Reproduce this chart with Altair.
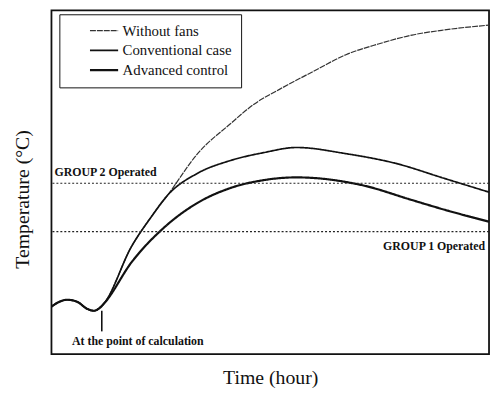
import altair as alt
import pandas as pd

# ---- data (arbitrary units: time 0-100, temperature 0-100) ----
series_names = ["Without fans", "Conventional case", "Advanced control"]

base_time = [0.0, 1.8, 3.6, 5.9, 8.1, 9.7, 10.8, 12.0]
base_temp = [13.8, 15.2, 15.8, 15.2, 13.2, 12.6, 13.2, 14.7]

nofan_time = [18.3, 22.8, 26.6, 33.4, 40.9, 46.3, 52.1, 59.8, 67.3, 74.7, 82.4, 89.8, 100]
nofan_temp = [31.3, 39.9, 46.3, 58.3, 67.0, 72.7, 77.0, 82.2, 87.1, 90.2, 92.8, 94.3, 95.7]

conv_time = [18.3, 22.8, 26.6, 33.4, 40.9, 48.5, 56.0, 67.3, 78.6, 89.8, 100]
conv_temp = [31.3, 39.9, 46.3, 52.6, 56.3, 58.6, 60.1, 58.3, 55.5, 51.1, 47.1]

adv_time = [18.3, 26.0, 33.4, 40.9, 48.5, 56.0, 71.1, 82.4, 89.8, 100]
adv_temp = [26.7, 37.1, 44.0, 48.3, 50.6, 51.4, 49.1, 44.8, 42.0, 38.5]

group_levels = [49.7, 35.6]

left_labels = ["GROUP 2 Operated", "At the point of calculation"]
left_label_time = [0.7, 4.7]
left_label_temp = [52.9, 3.7]

right_labels = ["GROUP 1 Operated"]
right_label_time = [99.1]
right_label_temp = [31.3]

calc_time = [11.5]
calc_temp_low = [6.6]
calc_temp_high = [12.6]

# ---- tables ----
rows = []
for name, ts, vs in zip(series_names,
                        [nofan_time, conv_time, adv_time],
                        [nofan_temp, conv_temp, adv_temp]):
    for t, v in zip(base_time + ts, base_temp + vs):
        rows.append({"series": name, "time": t, "temp": v})
df = pd.DataFrame(rows)

levels_df = pd.DataFrame({"temp": group_levels})
left_df = pd.DataFrame({"label": left_labels, "time": left_label_time, "temp": left_label_temp})
right_df = pd.DataFrame({"label": right_labels, "time": right_label_time, "temp": right_label_temp})
calc_df = pd.DataFrame({"time": calc_time, "temp": calc_temp_low, "temp2": calc_temp_high})

SERIF = "Liberation Serif"
xscale = alt.Scale(domain=[0, 100], nice=False, zero=False)
yscale = alt.Scale(domain=[0, 100], nice=False, zero=False)

legend = alt.Legend(
    title=None, orient="none", legendX=8, legendY=4,
    padding=9, fillColor="white", strokeColor="#111",
    labelFont=SERIF, labelFontSize=15, labelColor="#111",
    symbolType="M2.9,0H8.6", symbolSize=100, labelOffset=40, rowPadding=4,
)

lines = alt.Chart(df).mark_line(interpolate="monotone").encode(
    x=alt.X("time:Q", scale=xscale,
            axis=alt.Axis(title="Time (hour)", labels=False, ticks=False, domain=False, grid=False,
                          titleFont=SERIF, titleFontSize=20, titleFontWeight="normal", titleColor="#111",
                          titleY=30, titleBaseline="alphabetic")),
    y=alt.Y("temp:Q", scale=yscale,
            axis=alt.Axis(title="Temperature (°C)", labels=False, ticks=False, domain=False, grid=False,
                          titleFont=SERIF, titleFontSize=20, titleFontWeight="normal", titleColor="#111",
                          titleX=-23, titleY=191, titleBaseline="alphabetic")),
    color=alt.Color("series:N", sort=series_names,
                    scale=alt.Scale(domain=series_names, range=["#333333", "#111111", "#111111"]),
                    legend=legend),
    strokeWidth=alt.StrokeWidth("series:N", sort=series_names,
                                scale=alt.Scale(domain=series_names, range=[1.2, 2.2, 2.2]),
                                legend=legend),
    strokeDash=alt.StrokeDash("series:N", sort=series_names,
                              scale=alt.Scale(domain=series_names, range=[[6, 1], [1, 0], [1, 0]]),
                              legend=legend),
)

rules = alt.Chart(levels_df).mark_rule(strokeDash=[2, 2], strokeWidth=1.2, color="#222").encode(
    y=alt.Y("temp:Q", scale=yscale)
)

calc_tick = alt.Chart(calc_df).mark_rule(strokeWidth=1.6, color="#111").encode(
    x=alt.X("time:Q", scale=xscale), y=alt.Y("temp:Q", scale=yscale), y2="temp2:Q"
)

left_text = alt.Chart(left_df).mark_text(
    align="left", baseline="middle", font=SERIF, fontSize=12, fontWeight="bold", color="#111"
).encode(x=alt.X("time:Q", scale=xscale), y=alt.Y("temp:Q", scale=yscale), text="label:N")

right_text = alt.Chart(right_df).mark_text(
    align="right", baseline="middle", font=SERIF, fontSize=12, fontWeight="bold", color="#111"
).encode(x=alt.X("time:Q", scale=xscale), y=alt.Y("temp:Q", scale=yscale), text="label:N")

chart = alt.layer(lines, rules, calc_tick, left_text, right_text).properties(
    width=443, height=348,
    autosize=alt.AutoSizeParams(type="none"),
    padding={"left": 44, "top": 0, "right": 2, "bottom": 32},
    background="white",
).configure_view(
    stroke="#111", strokeWidth=1.8
).configure_legend(
    labelFont=SERIF, labelFontSize=15
).configure_axis(
    titleFont=SERIF
).configure_text(
    font=SERIF
)

chart.save("out.html", embed_options={"renderer": "svg", "actions": False})
